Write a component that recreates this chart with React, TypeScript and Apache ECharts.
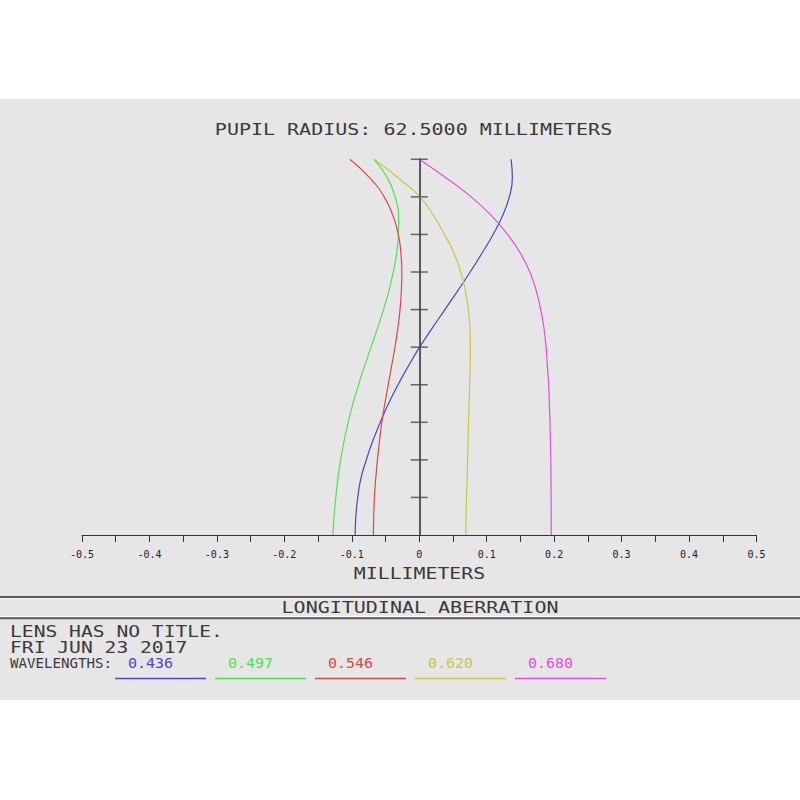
import React, { useEffect, useRef } from "react";
import * as echarts from "echarts";

// Normalized pupil coordinate (y) samples
const pupil = [0, 0.05, 0.1, 0.15, 0.2, 0.25, 0.3, 0.35, 0.4, 0.45, 0.5, 0.55, 0.6, 0.65, 0.7, 0.75, 0.8, 0.85, 0.9, 0.95, 1.0];

// Longitudinal aberration (mm) per wavelength at each pupil sample
const ab436 = [-0.095, -0.094, -0.0912, -0.0866, -0.0785, -0.069, -0.0578, -0.0455, -0.0315, -0.016, 0.0005, 0.019, 0.038, 0.057, 0.0755, 0.093, 0.1095, 0.1235, 0.1335, 0.138, 0.1362];
const ab497 = [-0.128, -0.1262, -0.1238, -0.1206, -0.1165, -0.1115, -0.1054, -0.0982, -0.09, -0.081, -0.0715, -0.062, -0.053, -0.045, -0.0385, -0.0335, -0.031, -0.0306, -0.0358, -0.047, -0.067];
const ab546 = [-0.068, -0.0675, -0.0665, -0.0645, -0.062, -0.059, -0.0555, -0.051, -0.046, -0.041, -0.036, -0.0318, -0.0285, -0.0265, -0.0258, -0.0272, -0.031, -0.039, -0.052, -0.073, -0.103];
const ab620 = [0.069, 0.0695, 0.070, 0.071, 0.0717, 0.0724, 0.073, 0.074, 0.0748, 0.0755, 0.0758, 0.0752, 0.0728, 0.0685, 0.0615, 0.0515, 0.0375, 0.0213, 0.001, -0.031, -0.0667];
const ab680 = [0.1957, 0.1956, 0.1955, 0.1953, 0.195, 0.1945, 0.1938, 0.1929, 0.1918, 0.190, 0.188, 0.185, 0.180, 0.1735, 0.164, 0.150, 0.131, 0.107, 0.077, 0.040, 0.0];

const wavelengths = ["0.436", "0.497", "0.546", "0.620", "0.680"];
const seriesValues = [ab436, ab497, ab546, ab620, ab680];
const colors = ["#4848c4", "#52e052", "#d64a4a", "#c8c84a", "#de50de"];

const yTickValues = [0.1, 0.2, 0.3, 0.4, 0.5, 0.6, 0.7, 0.8, 0.9, 1.0];

const FONT = '"DejaVu Sans Mono", "Liberation Mono", monospace';
const TXT = "#3a3a3a";

export default function App() {
  const ref = useRef<HTMLDivElement>(null);

  useEffect(() => {
    if (!ref.current) return;
    const chart = echarts.init(ref.current, undefined, { renderer: "svg" });

    const series: any[] = seriesValues.map((vals, i) => ({
      type: "line",
      name: wavelengths[i],
      data: pupil.map((p, k) => [vals[k], p]),
      showSymbol: false,
      smooth: 0.5,
      lineStyle: { color: colors[i], width: 1.2 },
      itemStyle: { color: colors[i] },
      z: 3,
    }));

    series.push({
      type: "scatter",
      data: yTickValues.map((v) => [0, v]),
      symbol: "rect",
      symbolSize: [17, 1.5],
      itemStyle: { color: "#444" },
      silent: true,
      z: 4,
    });

    const texts: any[] = [];
    const addText = (
      text: string,
      x: number,
      y: number,
      size: number,
      scaleX: number,
      align: string,
      fill: string = TXT
    ) => {
      texts.push({
        type: "text",
        x,
        y,
        scaleX,
        z: 100,
        style: {
          text,
          font: `${size}px ${FONT}`,
          fill,
          textAlign: align,
          textVerticalAlign: "middle",
          verticalAlign: "middle",
        },
      });
    };

    addText("PUPIL RADIUS: 62.5000 MILLIMETERS", 413.5, 129, 16, 1.25, "center");
    addText("MILLIMETERS", 419.5, 573, 16, 1.24, "center");
    addText("LONGITUDINAL ABERRATION", 420, 607.5, 16, 1.25, "center");
    addText("LENS HAS NO TITLE.", 10, 632, 15, 1.31, "left");
    addText("FRI JUN 23 2017", 10, 647.5, 15, 1.31, "left");
    addText("WAVELENGTHS:", 10, 663, 14, 1.01, "left");

    const legendEls: any[] = [];
    wavelengths.forEach((w, i) => {
      addText(w, 128 + i * 100, 663, 14, 1.07, "left", colors[i]);
      legendEls.push({
        type: "line",
        z: 100,
        shape: { x1: 115 + i * 100, y1: 678.5, x2: 206 + i * 100, y2: 678.5 },
        style: { stroke: colors[i], lineWidth: 1.5 },
      });
    });

    const sepLines: any[] = [
      { type: "line", z: 100, shape: { x1: 0, y1: 597, x2: 800, y2: 597 }, style: { stroke: "#5a5a5a", lineWidth: 2 } },
      { type: "line", z: 100, shape: { x1: 0, y1: 598.8, x2: 800, y2: 598.8 }, style: { stroke: "#fafafa", lineWidth: 1 } },
      { type: "line", z: 100, shape: { x1: 0, y1: 616.4, x2: 800, y2: 616.4 }, style: { stroke: "#fafafa", lineWidth: 1 } },
      { type: "line", z: 100, shape: { x1: 0, y1: 618.3, x2: 800, y2: 618.3 }, style: { stroke: "#5a5a5a", lineWidth: 2 } },
    ];

    chart.setOption({
      animation: false,
      backgroundColor: "#ffffff",
      grid: { left: 82, right: 43.5, top: 159.3, bottom: 265, containLabel: false },
      xAxis: {
        type: "value",
        min: -0.5,
        max: 0.5,
        interval: 0.1,
        axisLine: { show: true, onZero: false, lineStyle: { color: "#333", width: 1 } },
        axisTick: { show: true, length: 7, lineStyle: { color: "#333", width: 1 } },
        minorTick: { show: true, splitNumber: 2, length: 7, lineStyle: { color: "#333", width: 1 } },
        axisLabel: { fontFamily: FONT, fontSize: 10, color: "#222", margin: 14 },
        splitLine: { show: false },
        minorSplitLine: { show: false },
      },
      yAxis: {
        type: "value",
        min: 0,
        max: 1,
        interval: 0.1,
        axisLine: { show: true, onZero: true, lineStyle: { color: "#5a5a5a", width: 2 } },
        axisTick: { show: false },
        axisLabel: { show: false },
        splitLine: { show: false },
      },
      graphic: {
        elements: [
          {
            type: "rect",
            z: -10,
            shape: { x: 0, y: 99, width: 800, height: 601 },
            style: { fill: "#e6e6e6" },
          },
          ...sepLines,
          ...legendEls,
          ...texts,
        ],
      },
      series,
    });

    return () => {
      chart.dispose();
    };
  }, []);

  return (
    <div
      ref={ref}
      style={{ position: "absolute", left: 0, top: 0, width: 800, height: 800 }}
    />
  );
}
